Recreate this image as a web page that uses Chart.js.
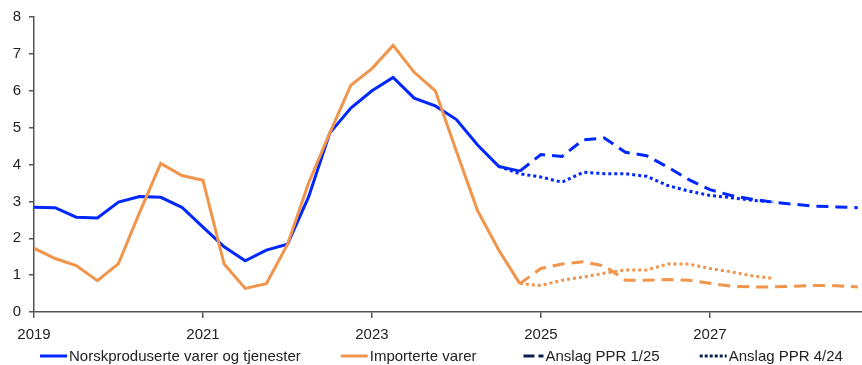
<!DOCTYPE html>
<html>
<head>
<meta charset="utf-8">
<script src="https://cdn.jsdelivr.net/npm/chart.js@4.4.1/dist/chart.umd.min.js"></script>
<style>
  html, body { margin: 0; padding: 0; background: #fff; }
  #wrap { width: 862px; height: 365px; }
</style>
</head>
<body>
<div id="wrap"><canvas id="chart"></canvas></div>
<script>
// quarterly series, first quarter 2019 K1
const startYear = 2019;
const tickYears = [2019, 2021, 2023, 2025, 2027];

// history, 2019 K1 - 2024 K4
const norskHist = [2.84, 2.83, 2.57, 2.55, 2.98, 3.13, 3.11, 2.84, 2.3, 1.77, 1.39, 1.68,
    1.84, 3.12, 4.85, 5.53, 6.0, 6.36, 5.8, 5.59, 5.22, 4.53, 3.95, 3.82];
const importHist = [1.73, 1.45, 1.26, 0.85, 1.31, 2.7, 4.03, 3.7, 3.57, 1.3, 0.64, 0.77,
    1.83, 3.5, 4.85, 6.15, 6.6, 7.23, 6.5, 6.0, 4.35, 2.75, 1.68, 0.77];

// PPR 1/25, from 2024 K4 (index 23)
const ppr125Start = 23;
const norskPpr125 = [3.82, 4.27, 4.22, 4.67, 4.72, 4.33, 4.24, 3.93, 3.59, 3.32, 3.16, 3.06,
    2.98, 2.92, 2.87, 2.85, 2.83];
const importPpr125 = [0.77, 1.18, 1.3, 1.36, 1.25, 0.86, 0.86, 0.88, 0.86, 0.78, 0.7, 0.68,
    0.68, 0.7, 0.72, 0.71, 0.68];

// PPR 4/24
const norskPpr424Start = 22;
const norskPpr424 = [3.95, 3.75, 3.66, 3.52, 3.79, 3.75, 3.75, 3.68, 3.43, 3.28, 3.16, 3.1, 3.03, 2.98];
const importPpr424Start = 23;
const importPpr424 = [0.77, 0.72, 0.86, 0.95, 1.05, 1.14, 1.14, 1.3, 1.3, 1.18, 1.09, 0.98, 0.91];

const legendLabels = ['Norskproduserte varer og tjenester', 'Importerte varer', 'Anslag PPR 1/25', 'Anslag PPR 4/24'];

const BLUE = '#0027ff';
const ORANGE = '#f0954b';
const NAVY = '#0b1f4d';
const FONT = '15px "Liberation Sans", Arial, sans-serif';

function toPoints(values, offset) {
    return values.map((v, i) => ({ x: startYear + (offset + i) / 4, y: v }));
}

function lineSet(values, offset, color, dash, order) {
    return {
        data: toPoints(values, offset),
        borderColor: color,
        backgroundColor: color,
        borderWidth: 3,
        borderDash: dash,
        pointRadius: 0,
        tension: 0,
        fill: false,
        order: order
    };
}

// legend row under the x axis: short line sample followed by the label
const legendItems = [
    { text: legendLabels[0], color: BLUE, dash: [], from: 0 },
    { text: legendLabels[1], color: ORANGE, dash: [], from: 0 },
    { text: legendLabels[2], color: NAVY, dash: [11, 4], from: 7 },
    { text: legendLabels[3], color: NAVY, dash: [3, 2], from: 0 }
];

const bottomLegend = {
    id: 'bottomLegend',
    afterDraw(chart) {
        const c = chart.ctx;
        const sample = 27, textGap = 2, itemGap = 40;
        c.save();
        c.font = FONT;
        const widths = legendItems.map(it => sample + textGap + c.measureText(it.text).width);
        let x = chart.chartArea.left + 6;
        const y = 356;
        legendItems.forEach((it, i) => {
            c.beginPath();
            c.setLineDash(it.dash);
            c.lineWidth = 3;
            c.strokeStyle = it.color;
            c.moveTo(x + it.from, y);
            c.lineTo(x + sample, y);
            c.stroke();
            c.setLineDash([]);
            c.fillStyle = '#222';
            c.textBaseline = 'middle';
            c.fillText(it.text, x + sample + textGap, y + 1);
            x += widths[i] + itemGap;
        });
        c.restore();
    }
};

const ctx = document.getElementById('chart').getContext('2d');

new Chart(ctx, {
    type: 'line',
    data: {
        datasets: [
            lineSet(importHist, 0, ORANGE, [], 1),
            lineSet(norskHist, 0, BLUE, [], 2),
            lineSet(importPpr125, ppr125Start, ORANGE, [12, 7], 3),
            lineSet(norskPpr125, ppr125Start, BLUE, [12, 7], 4),
            lineSet(importPpr424, importPpr424Start, ORANGE, [3, 3], 5),
            lineSet(norskPpr424, norskPpr424Start, BLUE, [3, 3], 6)
        ]
    },
    options: {
        responsive: true,
        maintainAspectRatio: false,
        animation: false,
        layout: { padding: { top: 16, right: 0, left: 0, bottom: 23 } },
        plugins: {
            tooltip: { enabled: false },
            legend: { display: false }
        },
        scales: {
            x: {
                type: 'linear',
                min: 2019,
                max: 2028.8,
                grid: { display: true, drawOnChartArea: false, tickLength: 6, color: '#555', lineWidth: 1.5 },
                border: { color: '#555', width: 1.5 },
                afterBuildTicks: axis => { axis.ticks = tickYears.map(v => ({ value: v })); },
                afterFit: axis => { axis.height = 30; },
                ticks: {
                    color: '#222',
                    font: { family: '"Liberation Sans", Arial, sans-serif', size: 15 },
                    maxRotation: 0,
                    padding: 8,
                    callback: v => String(v)
                }
            },
            y: {
                min: 0,
                max: 8,
                grid: { display: true, drawOnChartArea: false, tickLength: 5, color: '#555', lineWidth: 1.5 },
                border: { color: '#555', width: 1.5 },
                afterFit: axis => { axis.width = 34; },
                ticks: {
                    stepSize: 1,
                    color: '#222',
                    font: { family: '"Liberation Sans", Arial, sans-serif', size: 15 },
                    padding: 8
                }
            }
        }
    },
    plugins: [bottomLegend]
});
</script>
</body>
</html>
